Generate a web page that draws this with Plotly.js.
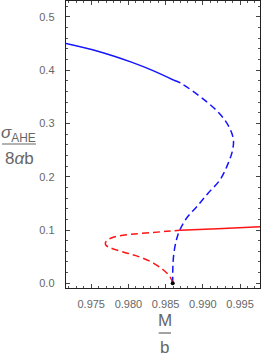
<!DOCTYPE html>
<html><head><meta charset="utf-8">
<script src="https://cdn.plot.ly/plotly-3.0.1.min.js"></script>
<style>html,body{margin:0;padding:0;background:#fff}#plot{width:262px;height:360px}</style>
</head><body><div id="plot"></div>
<script>
// Upper (stable) blue branch
var blueSolidX = [0.9716, 0.9760, 0.9804, 0.9833, 0.9861];
var blueSolidY = [0.450, 0.435, 0.415, 0.399, 0.381];
// Blue unstable branch (dashed)
var blueDashX = [0.9861, 0.9871, 0.9902, 0.9922, 0.9935, 0.9941, 0.9940, 0.9934, 0.9923, 0.9907, 0.9892, 0.9878, 0.9869, 0.9865, 0.9862, 0.9860, 0.98595];
var blueDashY = [0.381, 0.375, 0.344, 0.319, 0.294, 0.270, 0.250, 0.225, 0.194, 0.169, 0.144, 0.122, 0.100, 0.084, 0.065, 0.040, 0.0];
// Red unstable branch (dashed)
var redDashX = [0.98595, 0.9856, 0.9847, 0.9834, 0.9816, 0.9800, 0.9784, 0.9775, 0.9770, 0.9769, 0.9772, 0.9778, 0.9787, 0.9804, 0.9830, 0.9851, 0.9869];
var redDashY = [0.0, 0.012, 0.025, 0.0375, 0.049, 0.056, 0.0625, 0.067, 0.071, 0.076, 0.081, 0.0855, 0.0890, 0.0920, 0.0950, 0.0975, 0.0995];
// Red stable branch (solid)
var redSolidX = [0.9869, 0.9920, 0.99768];
var redSolidY = [0.0995, 0.1025, 0.106];
// Critical point
var dotX = [0.98595];
var dotY = [0.0];
var xTicks = [0.975, 0.980, 0.985, 0.990, 0.995];
var xTickText = ["0.975", "0.980", "0.985", "0.990", "0.995"];
var yTicks = [0.0, 0.1, 0.2, 0.3, 0.4, 0.5];
var yTickText = ["0.0", "0.1", "0.2", "0.3", "0.4", "0.5"];

var W = 262, H = 360, ML = 66, MR = 2, MT = 1, MB = 72;
function px(x){ return (x - ML) / (W - ML - MR); }
function py(y){ return (H - MB - y) / (H - MT - MB); }

var BLUE = 'rgb(20,20,255)', RED = 'rgb(255,20,20)';
var traces = [
  {x: blueSolidX, y: blueSolidY, mode: 'lines', line: {color: BLUE, width: 1.5, shape: 'spline'}},
  {x: blueDashX, y: blueDashY, mode: 'lines', line: {color: BLUE, width: 1.5, dash: '7px,4px', shape: 'spline'}},
  {x: redDashX, y: redDashY, mode: 'lines', line: {color: RED, width: 1.5, dash: '7px,4px', shape: 'spline'}},
  {x: redSolidX, y: redSolidY, mode: 'lines', line: {color: RED, width: 1.5, shape: 'spline'}},
  {x: dotX, y: dotY, mode: 'markers', marker: {color: 'black', size: 4}}
];
var tickFont = {family: 'Liberation Sans, Arial, sans-serif', size: 11, color: '#666'};
var labFont = {family: 'Liberation Sans, Arial, sans-serif', size: 17, color: '#666'};
var axisCommon = {
  showgrid: false, zeroline: false, showline: true, linecolor: '#222', linewidth: 1.3,
  mirror: 'allticks', ticks: 'inside', ticklen: 4, tickcolor: '#444', tickwidth: 1,
  tickfont: tickFont, fixedrange: true
};
var layout = {
  width: W, height: H, margin: {l: ML, r: MR, t: MT, b: MB},
  showlegend: false, paper_bgcolor: 'white', plot_bgcolor: 'white',
  xaxis: Object.assign({}, axisCommon, {
    range: [0.97161, 0.99768], tickvals: xTicks, ticktext: xTickText,
    minor: {dtick: 0.001, tick0: 0.97, ticks: 'inside', ticklen: 2, tickcolor: '#555'},
    ticklabelstandoff: 5
  }),
  yaxis: Object.assign({}, axisCommon, {
    range: [-0.0088, 0.5296], tickvals: yTicks, ticktext: yTickText,
    minor: {dtick: 0.02, tick0: 0, ticks: 'inside', ticklen: 2, tickcolor: '#555'},
    ticklabelstandoff: 8
  }),
  annotations: [
    {xref: 'paper', yref: 'paper', x: px(18), y: py(134), xanchor: 'center', yanchor: 'middle', showarrow: false,
     text: '<i>σ</i><sub>AHE</sub>', font: labFont},
    {xref: 'paper', yref: 'paper', x: px(19), y: py(159), xanchor: 'center', yanchor: 'middle', showarrow: false,
     text: '8<i>α</i>b', font: labFont},
    {xref: 'paper', yref: 'paper', x: px(164.5), y: py(320), xanchor: 'center', yanchor: 'middle', showarrow: false,
     text: 'M', font: labFont},
    {xref: 'paper', yref: 'paper', x: px(164.5), y: py(347), xanchor: 'center', yanchor: 'middle', showarrow: false,
     text: 'b', font: labFont}
  ],
  shapes: [
    {type: 'line', xref: 'paper', yref: 'paper', x0: px(2), x1: px(36), y0: py(144), y1: py(144), line: {color: '#666', width: 1.2}},
    {type: 'line', xref: 'paper', yref: 'paper', x0: px(158.7), x1: px(171), y0: py(333), y1: py(333), line: {color: '#666', width: 1.2}}
  ]
};
Plotly.newPlot('plot', traces, layout, {displayModeBar: false, staticPlot: true});
</script></body></html>
